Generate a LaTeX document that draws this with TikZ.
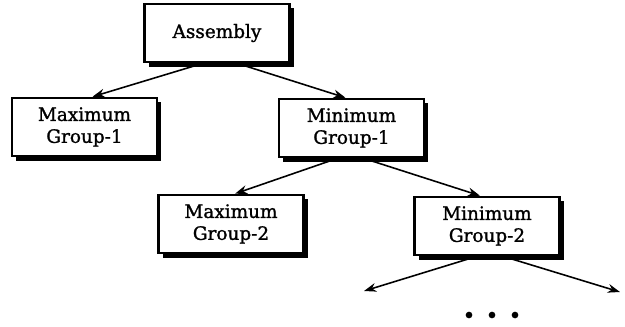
\documentclass[tikz,border=0pt]{standalone}
\usepackage{fontspec}
\setmainfont{DejaVu Serif}
\newfontfamily\grpfont[FakeBold=1.3]{DejaVu Serif}
\usetikzlibrary{shadows,arrows.meta,calc}
\tikzset{
  grp_box/.style = {draw=black, fill=white, line width=1.2pt, align=center, inner sep=0pt,
    minimum width=2.9cm, minimum height=1.17cm, font=\grpfont\fontsize{10.5}{12.5}\selectfont,
    drop shadow={shadow xshift=2.5pt, shadow yshift=-2.5pt, fill=black, opacity=1}},
  grp_arr/.style = {-{Stealth[length=7pt,width=5pt]}, line width=0.9pt},
  dot_n/.style = {circle, fill=black, inner sep=0pt, minimum size=3.8pt}
}

\begin{document}
\begin{tikzpicture}[x=0.02cm,y=-0.02cm]
	\useasboundingbox (0,0) rectangle (625,326);
	\node [grp_box] (asm) at (217,33)    {Assembly};
	\node [grp_box] (mx1) at (84.5,127)  {Maximum\\Group-1};
	\node [grp_box] (mn1) at (351.5,128) {Minimum\\Group-1};
	\node [grp_box] (mx2) at (231,224)   {Maximum\\Group-2};
	\node [grp_box] (mn2) at (487,226)   {Minimum\\Group-2};
	\coordinate (lf) at (364,291);
	\coordinate (rt) at (620,292);
	\node [dot_n] (d1) at (469,315) {};
	\node [dot_n] (d2) at (492,315) {};
	\node [dot_n] (d3) at (515,315) {};
	% edges
	\draw [grp_arr] ($(asm.south)+(-14,0)$) -- ($(mx1.north)+(8,0)$);
	\draw [grp_arr] ($(asm.south)+(20,0)$)  -- ($(mn1.north)+(-6,0)$);
	\draw [grp_arr] ($(mn1.south)+(-14,0)$) -- ($(mx2.north)+(4,0)$);
	\draw [grp_arr] ($(mn1.south)+(12,0)$)  -- ($(mn2.north)+(-7,0)$);
	\draw [grp_arr] ($(mn2.south)+(-10,0)$) -- (lf);
	\draw [grp_arr] ($(mn2.south)+(16,0)$)  -- (rt);
\end{tikzpicture}
\end{document}
